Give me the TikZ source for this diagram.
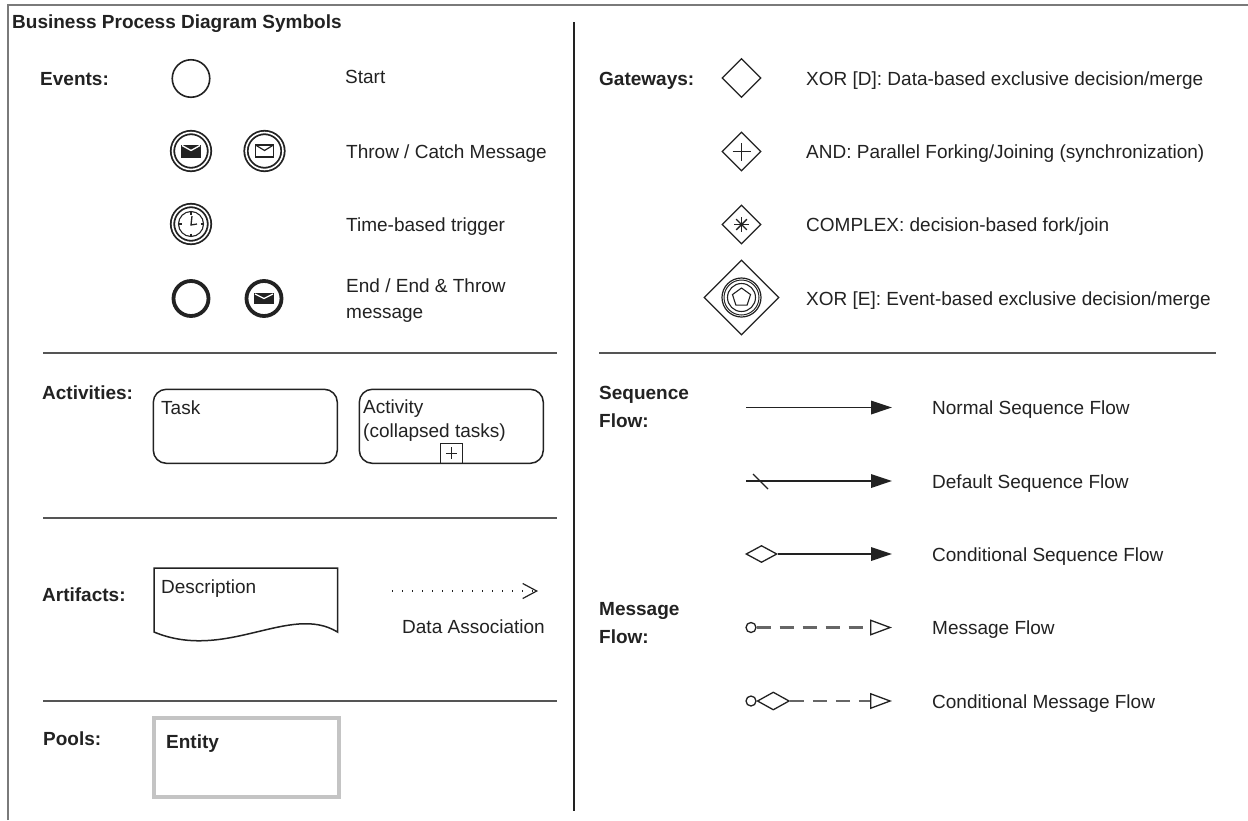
\documentclass[tikz,border=0pt]{standalone}
\usepackage{fontspec}
\setmainfont{Liberation Sans}
\usetikzlibrary{shapes.geometric,arrows.meta}
\definecolor{ink}{HTML}{222222}
\definecolor{linegray}{HTML}{555555}
\definecolor{framegray}{HTML}{7A7A7A}
\definecolor{poolgray}{HTML}{C4C4C4}
\definecolor{dashgray}{HTML}{666666}
\begin{document}
\begin{tikzpicture}[x=1pt,y=-1pt,
  txt/.style={anchor=base west, inner sep=0pt, text=ink, font=\fontsize{19}{23}\selectfont},
  lbl/.style={anchor=base west, inner sep=0pt, text=ink, font=\fontsize{19}{23}\selectfont\bfseries},
  divider/.style={draw=linegray, line width=2.2pt},
  evplain/.style={circle, draw=ink, line width=1.6pt, minimum size=37.5pt, inner sep=0pt},
  evring/.style={circle, draw=ink, line width=1.8pt, minimum size=37pt, inner sep=0pt, double=white, double distance=1.6pt},
  evend/.style={circle, draw=ink, line width=3.8pt, minimum size=35pt, inner sep=0pt},
  gwbox/.style={diamond, draw=ink, line width=1.2pt, minimum width=39pt, minimum height=39pt, inner sep=0pt},
  taskbox/.style={draw=ink, line width=1.5pt, rounded corners=13pt, minimum width=184pt, minimum height=74pt, inner sep=0pt},
  seqflow/.style={draw=ink, line width=1.8pt, -{Triangle[length=21pt,width=13.5pt]}},
  msgflow/.style={draw=dashgray, line width=2.2pt, dash pattern=on 14pt off 9pt, -{Triangle[open,length=22pt,width=16pt,line width=1.3pt,color=ink]}},
  smallring/.style={circle, draw=ink, line width=1.3pt, minimum size=10pt, inner sep=0pt},
  conddia/.style={diamond, draw=ink, line width=1.3pt, minimum width=31pt, minimum height=17pt, inner sep=0pt}
]
\useasboundingbox (0,0) rectangle (1248,820);
\fill[white] (0,0) rectangle (1248,820);

% frame and dividers
\coordinate (fbl) at (8,820);
\coordinate (ftl) at (8,5);
\coordinate (ftr) at (1248,5);
\draw[framegray, line width=2.6pt] (fbl) -- (ftl) -- (ftr);
\coordinate (vtop) at (574,22);
\coordinate (vbot) at (574,811);
\draw[draw=ink, line width=1.8pt] (vtop) -- (vbot);
\coordinate (d1a) at (43,353); \coordinate (d1b) at (557,353);
\coordinate (d2a) at (43,518); \coordinate (d2b) at (557,518);
\coordinate (d3a) at (43,701); \coordinate (d3b) at (557,701);
\coordinate (d4a) at (599,353); \coordinate (d4b) at (1216,353);
\draw[divider] (d1a) -- (d1b);
\draw[divider] (d2a) -- (d2b);
\draw[divider] (d3a) -- (d3b);
\draw[divider] (d4a) -- (d4b);

% title
\node[lbl] (title) at (12,28) {Business Process Diagram Symbols};

% ---------- Events ----------
\node[lbl] (lev) at (40,85) {Events:};
\node[evplain] (evstart) at (191,78.5) {};
\node[txt] (tstart) at (345,83) {Start};

\node[evring] (evthrow) at (191,151) {};
\node[evring] (evcatch) at (264.5,151) {};
\begin{scope}[shift={(evthrow.center)}]
  \fill[ink] (-10,-6.5) rectangle (10,6.5);
  \draw[white, line width=1.3pt] (-9,-5.5) -- (0,-0.5) -- (9,-5.5);
\end{scope}
\begin{scope}[shift={(evcatch.center)}]
  \draw[ink, line width=1.4pt, fill=white] (-9,-6) rectangle (9,6);
  \draw[ink, line width=1.2pt] (-9,-6) -- (0,-0.5) -- (9,-6);
\end{scope}
\node[txt] (tmsg) at (346,158) {Throw / Catch Message};

\node[evring] (evtimer) at (191,224) {};
\begin{scope}[shift={(evtimer.center)}]
  \draw[ink, line width=1.1pt] (0,0) circle[radius=12.5pt];
  \foreach \a in {0,90,180,270} {\draw[ink, line width=1.1pt] (\a:9.5pt) -- (\a:12.5pt);}
  \draw[ink, line width=1.3pt] (1,-8) -- (0,1) -- (6,0);
\end{scope}
\node[txt] (ttime) at (346,231) {Time-based trigger};

\node[evend] (evendp) at (191,298.5) {};
\node[evend] (evendm) at (264,298.5) {};
\begin{scope}[shift={(evendm.center)}]
  \fill[ink] (-10,-5.5) rectangle (10,5.5);
  \draw[white, line width=1.2pt] (-9,-4.5) -- (0,0) -- (9,-4.5);
\end{scope}
\node[txt] (tend1) at (346,292) {End / End \& Throw};
\node[txt] (tend2) at (346,318) {message};

% ---------- Activities ----------
\node[lbl] (lact) at (42,399) {Activities:};
\node[taskbox] (task) at (245.3,426.3) {};
\node[txt] (ttask) at (161,414) {Task};
\node[taskbox] (activity) at (451.3,426.3) {};
\node[txt] (tact1) at (363,413) {Activity};
\node[txt] (tact2) at (363,437) {(collapsed tasks)};
\node[draw=ink, line width=1.3pt, minimum width=22pt, minimum height=20pt, inner sep=0pt, anchor=south] (plusbox) at (activity.south) {};
\begin{scope}[shift={(plusbox.center)}]
  \draw[ink, line width=1.3pt] (-5.5,0) -- (5.5,0) (0,-6) -- (0,6);
\end{scope}

% ---------- Artifacts ----------
\node[lbl] (lart) at (42,601) {Artifacts:};
\draw[ink, line width=1.5pt] (154,568) -- (337.5,568) -- (337.5,632)
   .. controls (290,603) and (226,662) .. (154,632) -- cycle;
\node[txt] (tdesc) at (161,593) {Description};
\coordinate (daA) at (392,591);
\coordinate (daB) at (538,591);
\draw[ink, line width=1.4pt, dash pattern=on 1.4pt off 8.6pt, -{Straight Barb[length=14pt,width=15pt,line width=1.2pt]}] (daA) -- (daB);
\node[txt] (tda) at (402,633) {Data Association};

% ---------- Pools ----------
\node[lbl] (lpool) at (43,745) {Pools:};
\node[draw=poolgray, line width=4pt, minimum width=185pt, minimum height=79pt, inner sep=0pt] (pool) at (246.5,757.5) {};
\node[lbl] (tentity) at (166,748) {Entity};

% ---------- Gateways ----------
\node[lbl] (lgw) at (599,85) {Gateways:};
\node[gwbox] (gwxor) at (741.5,78) {};
\node[txt] (txord) at (806,85) {XOR [D]: Data-based exclusive decision/merge};
\node[gwbox] (gwand) at (741.5,151.5) {};
\draw[ink, line width=1.3pt] ([xshift=-9pt]gwand.center) -- ([xshift=9pt]gwand.center);
\draw[ink, line width=1.3pt] ([yshift=-9pt]gwand.center) -- ([yshift=9pt]gwand.center);
\node[txt] (tand) at (806,158) {AND: Parallel Forking/Joining (synchronization)};
\node[gwbox] (gwcx) at (741.5,224.5) {};
\begin{scope}[shift={(gwcx.center)}]
  \foreach \a in {0,45,90,135} {\draw[ink, line width=1.4pt] (\a:7.5pt) -- (\a+180:7.5pt);}
\end{scope}
\node[txt] (tcx) at (806,231) {COMPLEX: decision-based fork/join};
\node[gwbox, minimum width=75pt, minimum height=75pt] (gwev) at (741.5,297.5) {};
\begin{scope}[shift={(gwev.center)}]
  \draw[ink, line width=1.2pt] (0,0) circle[radius=19.5pt];
  \draw[ink, line width=1.0pt] (0,0) circle[radius=17.5pt];
  \draw[ink, line width=1.1pt] (0,0) circle[radius=14pt];
\end{scope}
\node[regular polygon, regular polygon sides=5, draw=ink, line width=1.1pt, minimum size=19pt, inner sep=0pt] (pent) at (gwev.center) {};
\node[txt] (txore) at (806,305) {XOR [E]: Event-based exclusive decision/merge};

% ---------- Sequence flow ----------
\node[lbl] (lsf1) at (599,399) {Sequence};
\node[lbl] (lsf2) at (599,427) {Flow:};
\coordinate (sf1a) at (746,407.5); \coordinate (sf1b) at (892,407.5);
\draw[seqflow] (sf1a) -- (sf1b);
\node[txt] (tsf1) at (932,414) {Normal Sequence Flow};

\coordinate (sf2a) at (746,481); \coordinate (sf2b) at (892,481);
\draw[seqflow] (sf2a) -- (sf2b);
\coordinate (sl1) at (753,474); \coordinate (sl2) at (768,489);
\draw[ink, line width=1.3pt] (sl1) -- (sl2);
\node[txt] (tsf2) at (932,488) {Default Sequence Flow};

\node[conddia] (cd1) at (761.5,554) {};
\coordinate (sf3b) at (892,554);
\draw[seqflow] (cd1.east) -- (sf3b);
\node[txt] (tsf3) at (932,561) {Conditional Sequence Flow};

% ---------- Message flow ----------
\node[lbl] (lmf1) at (599,615) {Message};
\node[lbl] (lmf2) at (599,643) {Flow:};
\node[smallring] (mr1) at (751,627.5) {};
\coordinate (mf1b) at (892,627.5);
\draw[msgflow] (mr1.east) -- (mf1b);
\node[txt] (tmf1) at (932,634) {Message Flow};

\node[smallring] (mr2) at (751,701) {};
\node[conddia, minimum width=32pt, minimum height=18pt, anchor=west] (cd2) at (mr2.east) {};
\coordinate (mf2b) at (892,701);
\draw[msgflow] (cd2.east) -- (mf2b);
\node[txt] (tmf2) at (932,708) {Conditional Message Flow};
\end{tikzpicture}
\end{document}
